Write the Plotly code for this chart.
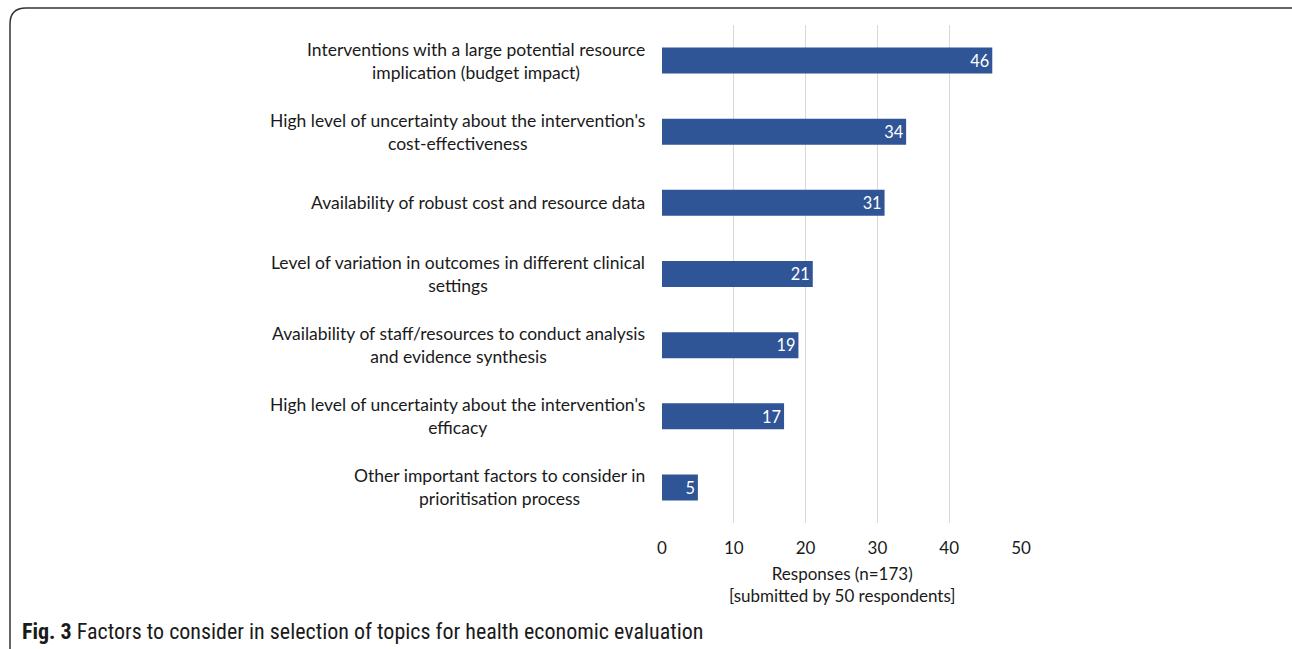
import plotly.graph_objects as go

# Survey responses: factors to consider when selecting topics for health economic evaluation
factors = [
    "Interventions with a large potential resource<br>implication (budget impact)",
    "High level of uncertainty about the intervention's<br>cost-effectiveness",
    "Availability of robust cost and resource data",
    "Level of variation in outcomes in different clinical<br>settings",
    "Availability of staff/resources to conduct analysis<br>and evidence synthesis",
    "High level of uncertainty about the intervention's<br>efficacy",
    "Other important factors to consider in<br>prioritisation process",
]
responses = [46, 34, 31, 21, 19, 17, 5]
x_ticks = [0, 10, 20, 30, 40, 50]

W, H = 1292, 649
L, R, T, B = 662, 1021, 25, 523  # plot area in pixels

FONT = "Lato, Open Sans, sans-serif"
BAR = "#2F5597"

fig = go.Figure(go.Bar(
    x=responses,
    y=factors,
    orientation="h",
    marker=dict(color=BAR, line=dict(width=0)),
    width=0.365,
    text=[str(v) for v in responses],
    textposition="inside",
    insidetextanchor="end",
    textangle=0,
    textfont=dict(family=FONT, size=18, color="white"),
    cliponaxis=False,
))

# category labels, centred text block right-aligned to the axis
for f in factors:
    fig.add_annotation(
        x=0, y=f, xref="x", yref="y", text=f, showarrow=False,
        xanchor="right", yanchor="middle", align="center", xshift=-15,
        font=dict(family=FONT, size=17.5, color="#1a1a1a"),
    )

def px_x(p):
    return (p - L) / (R - L)

def px_y(p):
    return (B - p) / (B - T)

# rounded frame around the figure
x0, x1, y0, y1, r = px_x(10), px_x(1310), px_y(8), px_y(668), 16
rx, ry = r / (R - L), r / (B - T)
frame = (f"M {x0},{y1} L {x0},{y0 - ry} Q {x0},{y0} {x0 + rx},{y0} "
         f"L {x1 - rx},{y0} Q {x1},{y0} {x1},{y0 - ry} L {x1},{y1}")

fig.update_layout(
    width=W, height=H,
    margin=dict(l=L, r=W - R, t=T, b=H - B),
    paper_bgcolor="white", plot_bgcolor="white",
    showlegend=False,
    bargap=0.6,
    shapes=[dict(type="path", path=frame, xref="paper", yref="paper",
                 line=dict(color="#333333", width=1.5))],
    xaxis=dict(
        range=[0, 50], tickvals=x_ticks, showgrid=True, gridcolor="#D9D9D9",
        gridwidth=1, zeroline=False, showline=False,
        tickfont=dict(family=FONT, size=17, color="#1a1a1a"),
        ticks="outside", ticklen=10, tickcolor="rgba(0,0,0,0)",
        fixedrange=True,
    ),
    yaxis=dict(
        categoryorder="array", categoryarray=factors, autorange="reversed",
        showticklabels=False, showgrid=False, zeroline=False, showline=False,
        fixedrange=True,
    ),
    annotations=list(fig.layout.annotations) + [
        dict(x=0.5, y=px_y(584), xref="paper", yref="paper", showarrow=False,
             text="Responses (n=173)<br>[submitted by 50 respondents]",
             xanchor="center", yanchor="middle", align="center",
             font=dict(family=FONT, size=17, color="#1a1a1a")),
        dict(x=px_x(20), y=px_y(631), xref="paper", yref="paper", showarrow=False,
             text="<b>Fig. 3</b> Factors to consider in selection of topics for health economic evaluation",
             xanchor="left", yanchor="middle", align="left",
             font=dict(family="Liberation Sans Narrow, Roboto Condensed, Roboto, sans-serif",
                       size=22, color="#1a1a1a")),
    ],
)

fig.write_html("out.html")
